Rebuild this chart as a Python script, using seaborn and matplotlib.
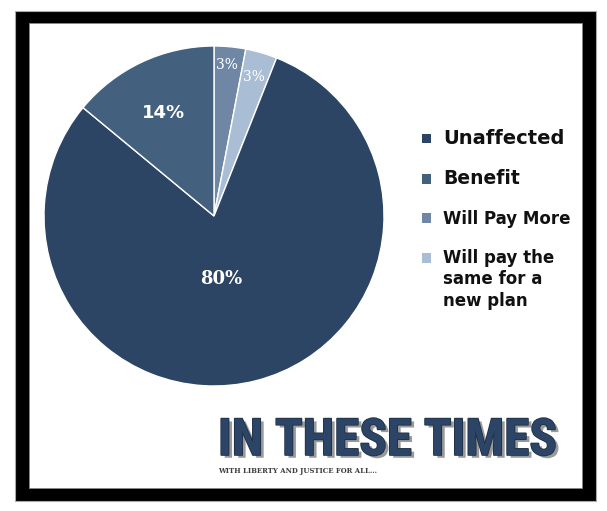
import matplotlib
matplotlib.use("Agg")
import matplotlib.pyplot as plt
from matplotlib import font_manager
from matplotlib.legend_handler import HandlerPatch
import seaborn as sns
import numpy as np
from matplotlib.patches import Rectangle, Patch
import matplotlib.patheffects as pe

# ---- data ----
categories = ["Will Pay More", "Will pay the\nsame for a\nnew plan", "Unaffected", "Benefit"]
values = [3, 3, 80, 14]
pct_labels = ["3%", "3%", "80%", "14%"]
colors = ["#6f87a5", "#a9bdd5", "#2c4564", "#44607f"]
legend_order = ["Unaffected", "Benefit", "Will Pay More", "Will pay the\nsame for a\nnew plan"]
logo_title = "IN THESE TIMES"
logo_sub = "WITH LIBERTY AND JUSTICE FOR ALL..."

sns.set_theme(style="white")
plt.rcParams['font.family'] = ['DejaVu Sans']

# choose a condensed font for the logo if available
fonts = font_manager.fontManager.ttflist
names = {f.name for f in fonts}
logo_font = dict(family='DejaVu Sans', stretch='normal')
for cand in ['Roboto Condensed', 'Liberation Sans Narrow', 'Open Sans Condensed']:
    if cand in names:
        logo_font = dict(family=cand, stretch='normal')
        break
else:
    if any(f.name == 'DejaVu Sans' and f.stretch == 'condensed' for f in fonts):
        logo_font = dict(family='DejaVu Sans', stretch='condensed')
sub_font = dict(family='DejaVu Serif', stretch='normal')
if any(f.name == 'DejaVu Serif' and f.stretch == 'condensed' for f in fonts):
    sub_font = dict(family='DejaVu Serif', stretch='condensed')

W, H = 607, 511
fig = plt.figure(figsize=(W / 100, H / 100), dpi=100)
fig.patch.set_facecolor('white')


def px_rect(x0, y0, x1, y1, **kw):
    return Rectangle((x0 / W, 1 - y1 / H), (x1 - x0) / W, (y1 - y0) / H,
                     transform=fig.transFigure, **kw)


# frame
fig.patches.append(px_rect(15, 11, 596, 501, facecolor='black', edgecolor='#aaaaaa', lw=0.8, zorder=-3))
fig.patches.append(px_rect(29, 23, 582, 488, facecolor='white', edgecolor='#888888', lw=0.6, zorder=-2))

# pie
cx, cy, r = 214, 216, 170
ax = fig.add_axes([(cx - r) / W, 1 - (cy + r) / H, 2 * r / W, 2 * r / H])
ax.patch.set_alpha(0)
wedges, _ = ax.pie(values, colors=colors, startangle=90, counterclock=False, radius=1,
                   wedgeprops=dict(edgecolor='white', linewidth=1.0))
ax.set_xlim(-1, 1)
ax.set_ylim(-1, 1)
ax.set_aspect('equal')
ax.axis('off')
for w in wedges:
    w.set_clip_on(False)

label_r = [0.89, 0.85, 0.38, 0.67]
label_dx = [-0.01, 0.0, -0.053, -0.01]
label_size = [10, 10, 13, 13]
label_family = ['DejaVu Serif', 'DejaVu Serif', 'DejaVu Serif', 'DejaVu Sans']
label_weight = ['normal', 'normal', 'bold', 'bold']
for w, lab, rr, dx, s, fam, wt in zip(wedges, pct_labels, label_r, label_dx, label_size,
                                      label_family, label_weight):
    th = np.deg2rad((w.theta1 + w.theta2) / 2)
    ax.text(rr * np.cos(th) + dx, rr * np.sin(th), lab, ha='center', va='center',
            color='white', fontsize=s, family=fam, weight=wt)


# legend
class ShiftedPatch(HandlerPatch):
    def __init__(self, dy=0, **kw):
        super().__init__(**kw)
        self.dy = dy

    def create_artists(self, legend, orig_handle, xdescent, ydescent, width, height,
                       fontsize, trans):
        return super().create_artists(legend, orig_handle, xdescent, ydescent - self.dy,
                                      width, height, fontsize, trans)


handles = [Patch(facecolor=colors[categories.index(c)], edgecolor='none') for c in legend_order]
hmap = {h: ShiftedPatch(dy=(16.5 if '\n' in lab else 0)) for h, lab in zip(handles, legend_order)}
leg = fig.legend(handles, legend_order, loc='upper left', bbox_to_anchor=(408 / W, 1 - 115 / H),
                 frameon=False, prop=dict(weight='bold', size=11), handlelength=0.6,
                 handleheight=0.6, handletextpad=0.8, labelspacing=1.4, handler_map=hmap)
for t, s in zip(leg.get_texts(), [14, 13.5, 12, 12]):
    t.set_fontsize(s)
    t.set_color('#111111')
    t.set_linespacing(1.25)

# logo
t1 = fig.text(218 / W, 1 - 455 / H, logo_title, family=logo_font['family'],
              fontstretch=logo_font['stretch'], weight='bold',
              fontsize=38, color='#2c4566', va='baseline', ha='left',
              path_effects=[pe.SimplePatchShadow(offset=(2.5, -2), shadow_rgbFace='#9a9a9a', alpha=1.0),
                            pe.withStroke(linewidth=1.2, foreground='#1e2f44')])
t2 = fig.text(218 / W, 1 - 472 / H, logo_sub, family=sub_font['family'],
              fontstretch=sub_font['stretch'], weight='bold',
              fontsize=6.3, color='#3d3d3d', va='top', ha='left')

fig.canvas.draw()
rend = fig.canvas.get_renderer()
for t, target in [(t1, 339), (t2, 160)]:
    wpx = t.get_window_extent(rend).width
    t.set_fontsize(t.get_fontsize() * target / wpx)
fig.canvas.draw()
bottom = t1.get_window_extent(rend).y0
t2.set_y((bottom - 1) / H)

fig.savefig('out.png', dpi=100, facecolor='white')
